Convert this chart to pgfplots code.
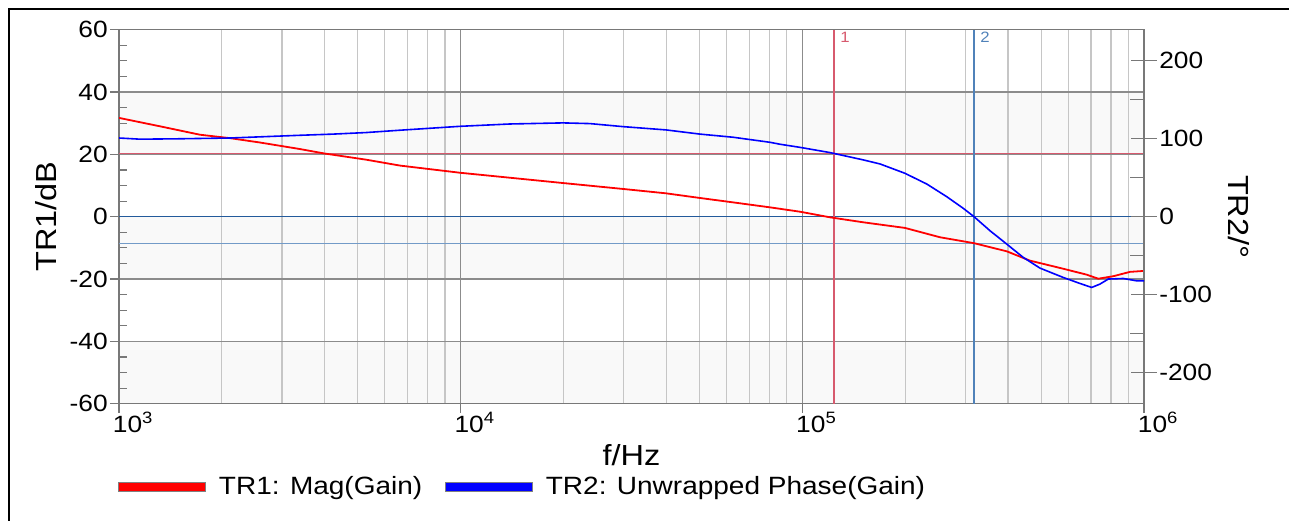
\documentclass[border=0pt]{standalone}
\usepackage{fontspec}
\setmainfont{Liberation Sans}[FakeStretch=1.12]
\usepackage{pgfplots}
\usepackage{pgfplotstable}
\pgfplotsset{compat=1.18}
\definecolor{band}{RGB}{249,249,249}
\definecolor{majgrid}{RGB}{140,140,140}
\definecolor{mingrid}{RGB}{198,198,198}
\definecolor{axgray}{RGB}{120,120,120}
\definecolor{mkred}{RGB}{215,90,110}
\definecolor{mkblue}{RGB}{80,130,185}
\definecolor{zeroblue}{RGB}{35,90,155}
\definecolor{gmblue}{RGB}{115,155,200}
\newcommand{\ticksize}{\fontsize{11.75}{14}\selectfont}
\newcommand{\legsize}{\fontsize{12.5}{15}\selectfont}
\newcommand{\labsize}{\fontsize{14.5}{17}\selectfont}
\newcommand{\mksize}{\fontsize{7.5}{9}\selectfont}

\pgfplotstableread{
f dB
1000 31.7
1318 29.0
1726 26.3
2113 25.2
2586 23.8
3387 21.7
3981 20.3
5284 18.3
6642 16.4
9954 14.1
19935 10.8
29870 8.9
39900 7.5
50180 6.0
62660 4.6
80400 3.0
98450 1.6
120500 -0.2
150800 -1.8
199700 -3.6
252900 -6.6
318100 -8.5
396400 -11.1
463800 -14.1
580400 -16.7
679600 -18.6
734800 -19.9
813100 -19.1
910000 -17.7
1000000 -17.4
}\magtable

\pgfplotstableread{
f deg
1000 101
1152 99.5
1500 100
2113 101
2586 102.5
3387 104.5
4230 106
5284 108
6642 111
9954 116
13945 119
19935 120.4
23900 119.5
29870 115.6
39900 111.4
50180 106
62660 102
80400 95.5
86030 93
98450 89
120500 82.3
150800 72.9
168800 67.7
199700 55.7
231200 42
264600 25.7
295900 10.7
318100 0
354200 -18
396400 -35.1
443300 -52.3
496200 -66
580400 -78
649600 -85.7
703000 -90.8
743100 -86.5
786200 -80
869800 -79.3
951900 -82.3
1000000 -82.3
}\phasetable

\begin{document}
\begin{tikzpicture}
\useasboundingbox (0,0) rectangle (644.5pt,260pt);
\draw[black, line width=1.2pt] (4.5pt,-2pt) -- (4.5pt,255.5pt) -- (648pt,255.5pt);

% background bands
\begin{axis}[scale only axis, width=512.5pt, height=187pt,
  at={(59.5pt,58.15pt)}, anchor=south west, xmode=log, xmin=1e3, xmax=1e6,
  ymin=-60, ymax=60, hide axis]
\addplot[draw=none, fill=band] coordinates {(1e3,20) (1e6,20) (1e6,40) (1e3,40)} -- cycle;
\addplot[draw=none, fill=band] coordinates {(1e3,-20) (1e6,-20) (1e6,0) (1e3,0)} -- cycle;
\addplot[draw=none, fill=band] coordinates {(1e3,-60) (1e6,-60) (1e6,-40) (1e3,-40)} -- cycle;
\end{axis}

% left axis: magnitude
\begin{axis}[scale only axis, width=512.5pt, height=187pt,
  at={(59.5pt,58.15pt)}, anchor=south west, xmode=log, xmin=1e3, xmax=1e6,
  ymin=-60, ymax=60,
  axis line style={axgray, line width=0.7pt},
  xtick={1e3,1e4,1e5,1e6},
  xticklabels={10\textsuperscript{3},10\textsuperscript{4},10\textsuperscript{5},10\textsuperscript{6}},
  ytick={-60,-40,-20,0,20,40,60},
  yticklabels={-60,-40,-20,0,20,40,60},
  tick pos=left, tick align=outside,
  major tick length=4.5pt, minor tick length=0pt,
  tick style={axgray, line width=0.6pt},
  xmajorgrids, xminorgrids, ymajorgrids,
  major grid style={majgrid, line width=0.6pt},
  minor grid style={mingrid, line width=0.6pt},
  extra y ticks={-55,-50,-45,-35,-30,-25,-15,-10,-5,5,10,15,25,30,35,45,50,55},
  extra y tick labels={},
  extra y tick style={grid=none, tick align=inside, major tick length=4pt},
  xticklabel style={font=\ticksize, anchor=base west, inner sep=0pt, xshift=-3.25pt, yshift=-10pt},
  yticklabel style={font=\ticksize, anchor=east, inner sep=0pt, xshift=-1pt},
  xlabel={f/Hz},
  xlabel style={at={(axis description cs:0.5,-0.1658)}, anchor=base, font=\labsize, inner sep=0pt},
  ylabel={TR1/dB},
  ylabel style={at={(axis description cs:-0.0712,0.5)}, anchor=center, font=\labsize, inner sep=0pt},
  legend image code/.code={\draw[#1, draw=gray, line width=0.5pt] (0pt,-2.3pt) rectangle (43.3pt,2.3pt);},
  legend style={at={(axis description cs:-0.001,-0.2227)}, anchor=west, draw=none, fill=none,
    legend columns=2, font=\legsize, inner sep=0pt,
    /tikz/every odd column/.append style={column sep=4.5pt},
    /tikz/every even column/.append style={column sep=9.5pt}},
]
\addplot[mkred, line width=0.6pt, forget plot] coordinates {(1e3,20.26) (1e6,20.26)};
\addplot[zeroblue, line width=0.6pt, forget plot] coordinates {(1e3,0) (1e6,0)};
\addplot[gmblue, line width=0.6pt, forget plot] coordinates {(1e3,-8.5) (1e6,-8.5)};
\addplot[mkred, line width=0.6pt, forget plot] coordinates {(123800,-60) (123800,60)};
\addplot[mkblue, line width=0.6pt, forget plot] coordinates {(318100,-60) (318100,60)};
\node[anchor=north west, text=mkred, font=\mksize, inner sep=0pt] at (axis cs:123800,60) [xshift=3pt, yshift=-1.2pt] {1};
\node[anchor=north west, text=mkblue, font=\mksize, inner sep=0pt] at (axis cs:318100,60) [xshift=3pt, yshift=-1.2pt] {2};
\addplot[red, line width=0.9pt, forget plot] table[x=f, y=dB] {\magtable};
\addlegendimage{fill=red}
\addlegendentry{TR1: Mag(Gain)}
\addlegendimage{fill=blue}
\addlegendentry{TR2: Unwrapped Phase(Gain)}
\end{axis}

% right axis: phase
\begin{axis}[scale only axis, width=512.5pt, height=187pt,
  at={(59.5pt,58.15pt)}, anchor=south west, xmode=log, xmin=1e3, xmax=1e6,
  ymin=-240, ymax=240,
  axis x line=none, axis y line*=right,
  axis line style={axgray, line width=0.7pt},
  ytick={-200,-100,0,100,200},
  yticklabels={-200,-100,0,100,200},
  tick align=center, major tick length=13pt,
  tick style={axgray, line width=0.6pt},
  extra y ticks={-150,-50,50,150},
  extra y tick labels={},
  extra y tick style={tick align=inside, major tick length=7pt},
  yticklabel style={font=\ticksize, anchor=west, inner sep=0pt, xshift=1pt},
  ylabel={TR2/°},
  every axis y label/.style={at={(axis description cs:1.0922,0.5)}, rotate=-90, anchor=center, font=\labsize, inner sep=0pt},
]
\addplot[blue, line width=0.8pt] table[x=f, y=deg] {\phasetable};
\end{axis}
\end{tikzpicture}
\end{document}
